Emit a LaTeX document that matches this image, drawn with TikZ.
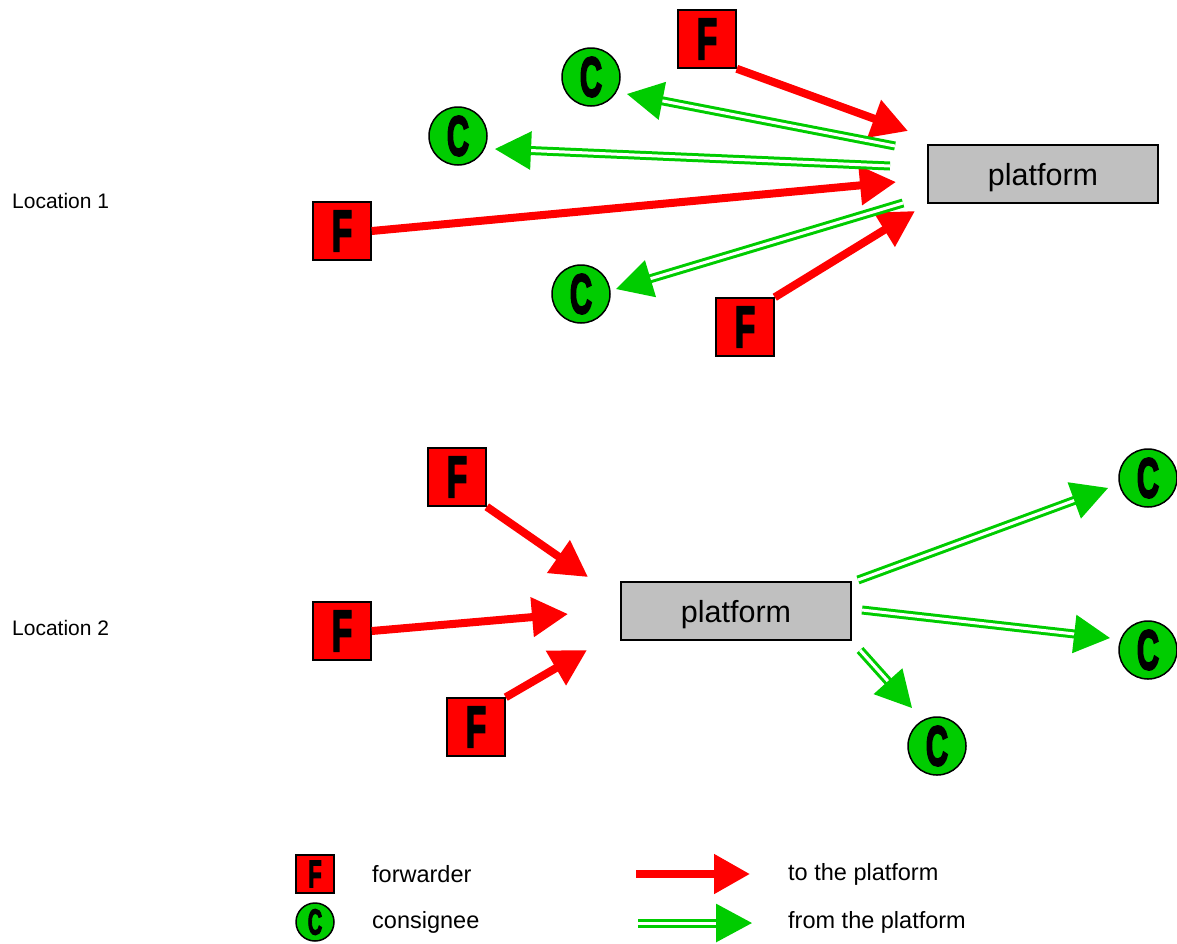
\documentclass[tikz,border=0pt]{standalone}
\usepackage{fontspec}
\usepackage{graphicx}
\setmainfont{Liberation Sans}
\newfontfamily\heavyfont{Liberation Sans Bold}[FakeBold=4]
\usetikzlibrary{arrows.meta}
\definecolor{fred}{HTML}{FF0000}
\definecolor{cgreen}{HTML}{00CC00}
\definecolor{pgray}{HTML}{C0C0C0}
\newcommand\letterF[1]{\scalebox{0.58}[1]{\fontsize{#1}{#1}\heavyfont F}}
\newcommand\letterC[1]{\scalebox{0.55}[1]{\fontsize{#1}{#1}\heavyfont C}}
\begin{document}
\begin{tikzpicture}[x=1pt,y=-1pt,
  fnode/.style={draw=black, line width=1.5pt, fill=fred, minimum size=58pt, inner sep=0pt},
  cnode/.style={circle, draw=black, line width=1.5pt, fill=cgreen, minimum size=58pt, inner sep=0pt},
  fsmall/.style={draw=black, line width=1.5pt, fill=fred, minimum size=38pt, inner sep=0pt},
  csmall/.style={circle, draw=black, line width=1.5pt, fill=cgreen, minimum size=38pt, inner sep=0pt},
  pnode/.style={draw=black, line width=1.5pt, fill=pgray, minimum width=230pt, minimum height=58pt, inner sep=0pt, text depth=0pt, font=\fontsize{30.5}{30.5}\selectfont},
  toarrow/.style={draw=fred, line width=8pt, -{Triangle[length=36pt,width=38pt]}},
  fromarrow/.style={draw=cgreen, line width=3pt, double=white, double distance=3pt, -{Triangle[length=36pt,width=38pt]}},
  loclabel/.style={anchor=west, inner sep=0pt, font=\fontsize{21}{21}\selectfont},
  legtext/.style={anchor=west, inner sep=0pt, font=\fontsize{23.5}{23.5}\selectfont}
]
\useasboundingbox (0,0) rectangle (1177,943);

% Location 1
\node[loclabel] (L1) at (12,201) {Location 1};
\node[pnode] (P1) at (1043,174) {platform};
\node[fnode] (F1) at (707,39) {\letterF{58}};
\node[fnode] (F2) at (342,231) {\letterF{58}};
\node[fnode] (F3) at (745,327) {\letterF{58}};
\node[cnode] (C1) at (591,77) {\letterC{56}};
\node[cnode] (C2) at (458,136) {\letterC{56}};
\node[cnode] (C3) at (581,294) {\letterC{56}};

\coordinate (a1) at (908,131);
\coordinate (a2) at (896,182);
\coordinate (a3) at (915,211);
\coordinate (s1) at (895,146);
\coordinate (t1) at (627,94);
\coordinate (s2) at (890,166);
\coordinate (t2) at (495,149);
\coordinate (s3) at (903,203);
\coordinate (t3) at (616,289);

\draw[toarrow] (F1.south east) -- (a1);
\draw[toarrow] (F2.east) -- (a2);
\draw[toarrow] (F3.north east) -- (a3);
\draw[fromarrow] (s1) -- (t1);
\draw[fromarrow] (s2) -- (t2);
\draw[fromarrow] (s3) -- (t3);

% Location 2
\node[loclabel] (L2) at (12,628) {Location 2};
\node[pnode] (P2) at (736,611) {platform};
\node[fnode] (F4) at (457,477) {\letterF{58}};
\node[fnode] (F5) at (342,631) {\letterF{58}};
\node[fnode] (F6) at (476,727) {\letterF{58}};
\node[cnode] (C4) at (1148,478) {\letterC{56}};
\node[cnode] (C5) at (1148,650) {\letterC{56}};
\node[cnode] (C6) at (937,746) {\letterC{56}};

\coordinate (b1) at (588,577);
\coordinate (b2) at (568,614);
\coordinate (b3) at (587,650);
\coordinate (u1) at (858,580);
\coordinate (v1) at (1108,488);
\coordinate (u2) at (862,610);
\coordinate (v2) at (1110,638);
\coordinate (u3) at (860,650);
\coordinate (v3) at (912,708);

\draw[toarrow] (F4.south east) -- (b1);
\draw[toarrow] (F5.east) -- (b2);
\draw[toarrow] (F6.north east) -- (b3);
\draw[fromarrow] (u1) -- (v1);
\draw[fromarrow] (u2) -- (v2);
\draw[fromarrow] (u3) -- (v3);

% Legend
\node[fsmall] (LF) at (315,874) {\letterF{38}};
\node[csmall] (LC) at (315,922) {\letterC{36}};
\node[legtext] (LFt) at (372,874) {forwarder};
\node[legtext] (LCt) at (372,922) {consignee};
\coordinate (lr1) at (636,874);
\coordinate (lr2) at (750,874);
\coordinate (lg1) at (638,923);
\coordinate (lg2) at (752,923);
\draw[toarrow] (lr1) -- (lr2);
\draw[fromarrow] (lg1) -- (lg2);
\node[legtext] (LRt) at (788,874) {to the platform};
\node[legtext] (LGt) at (788,922) {from the platform};
\end{tikzpicture}
\end{document}
